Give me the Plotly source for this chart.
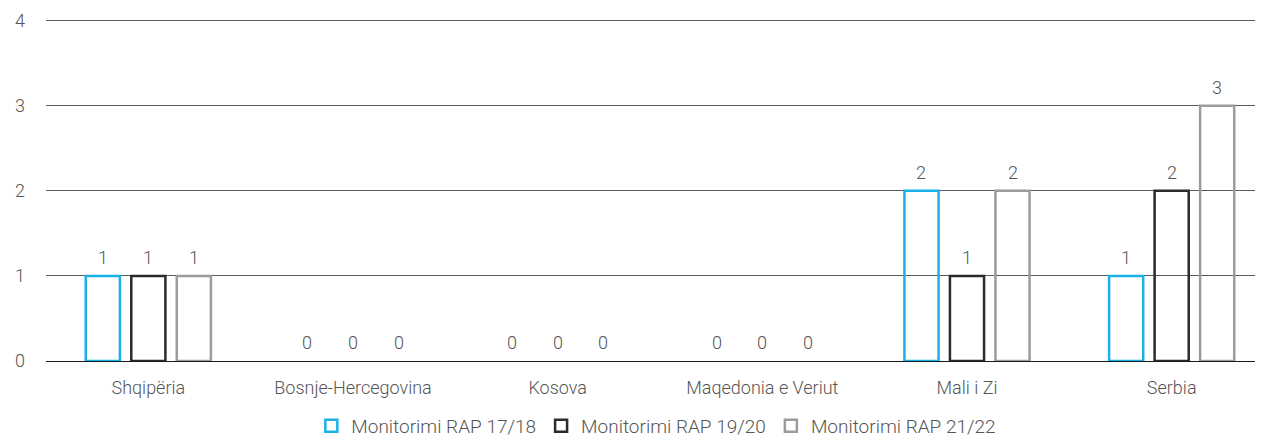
import plotly.graph_objects as go

categories = ["Shqipëria", "Bosnje-Hercegovina", "Kosova", "Maqedonia e Veriut", "Mali i Zi", "Serbia"]
series_names = ["Monitorimi RAP 17/18", "Monitorimi RAP 19/20", "Monitorimi RAP 21/22"]
rap_17_18 = [1, 0, 0, 0, 2, 1]
rap_19_20 = [1, 0, 0, 0, 1, 2]
rap_21_22 = [1, 0, 0, 0, 2, 3]
colors = ["#1AB0E8", "#2B2B2B", "#9B9B9B"]

font_family = "Roboto, Open Sans, sans-serif"
text_color = "#555555"
# the page body adds an 8px offset; the plot area runs slightly past the right edge as in the reference
W, H = 1266, 431
ML, MR, MT, MB = 38, 0, 11, 78
BARGAP = 0.333

fig = go.Figure()
series = [rap_17_18, rap_19_20, rap_21_22]
for name, vals, col in zip(series_names, series, colors):
    fig.add_trace(go.Bar(
        x=categories, y=vals, name=name,
        marker=dict(color="rgba(255,255,255,0)",
                    line=dict(color=col, width=[0 if v == 0 else 2.5 for v in vals])),
        hoverinfo="x+y+name",
    ))

# value labels above each bar
cat_px = (W - ML - MR) / len(categories)
slot = cat_px * (1 - BARGAP) / len(series)
annotations = []
for i, vals in enumerate(series):
    for c, v in zip(categories, vals):
        annotations.append(dict(
            x=c, y=v, xref="x", yref="y", text=str(v), showarrow=False,
            xshift=(i - 1) * slot, yanchor="bottom", yshift=6,
            font=dict(size=18, color=text_color, family=font_family, weight=300),
        ))

fig.update_layout(
    width=W, height=H,
    margin=dict(l=ML, r=MR, t=MT, b=MB, autoexpand=False),
    paper_bgcolor="white", plot_bgcolor="white",
    barmode="group", bargap=BARGAP, bargroupgap=0.25,
    font=dict(family=font_family, size=18, color=text_color, weight=300),
    showlegend=True,
    legend=dict(orientation="h", x=0.497, xanchor="center", y=-0.19, yanchor="middle",
                font=dict(size=19, color=text_color, family=font_family, weight=300),
                itemwidth=30, tracegroupgap=0),
    annotations=annotations,
    xaxis=dict(showgrid=False, showline=False, ticks="", tickfont=dict(size=18),
               ticklabelstandoff=14, automargin=False),
    yaxis=dict(range=[0, 4.02], tickvals=[0, 1, 2, 3, 4], showgrid=True, gridcolor="#5a5a5a", gridwidth=1,
               zeroline=True, zerolinecolor="#1a1a1a", zerolinewidth=1,
               showline=False, ticks="", tickfont=dict(size=18), ticklabelstandoff=20,
               automargin=False),
)

fig.write_html("out.html")
